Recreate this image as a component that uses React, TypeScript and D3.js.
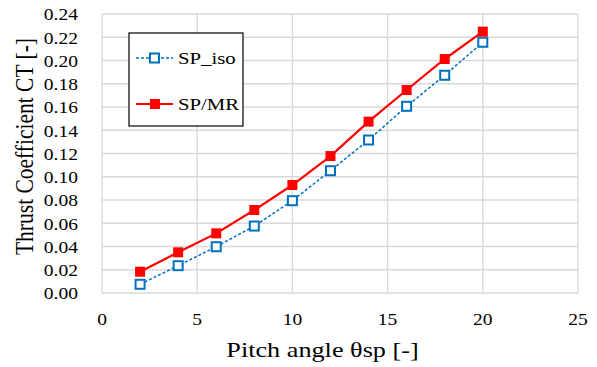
import React from "react";
import * as d3 from "d3";

const pitch = [2, 4, 6, 8, 10, 12, 14, 16, 18, 20];
const spIso = [0.0075, 0.0235, 0.0398, 0.0576, 0.0794, 0.1052, 0.1316, 0.1606, 0.1873, 0.2157];
const spMr = [0.0183, 0.035, 0.0513, 0.0714, 0.0929, 0.1178, 0.1474, 0.1746, 0.2013, 0.2248];
const xTicks = [0, 5, 10, 15, 20, 25];
const yTicks = [0, 0.02, 0.04, 0.06, 0.08, 0.1, 0.12, 0.14, 0.16, 0.18, 0.2, 0.22, 0.24];

const W = 597, H = 367;
const L = 102, R = 578, T = 14, B = 293;
const font = "Liberation Serif";
const SX = 1.22;

function SText({ x, y, anchor = "start", size, rotate = 0, children }: any) {
  return (
    <text
      transform={`translate(${x},${y}) scale(${SX},1) rotate(${rotate})`}
      textAnchor={anchor}
      fontFamily={font}
      fontSize={size}
      fill="#000"
    >
      {children}
    </text>
  );
}

export default function App() {
  const x = d3.scaleLinear().domain([0, 25]).range([L, R]);
  const y = d3.scaleLinear().domain([0, 0.24]).range([B, T]);
  const line = d3.line<number>().x((_, i) => x(pitch[i])).y((d) => y(d));
  const blue = "#0070c0", red = "#ff0000";
  return (
    <svg width={W} height={H} style={{ position: "absolute", left: 0, top: 0 }}>
      <rect width={W} height={H} fill="#fff" />
      {yTicks.map((t) => (
        <line key={"gy" + t} x1={L} x2={R} y1={y(t)} y2={y(t)} stroke="#d9d9d9" strokeWidth={1.3} />
      ))}
      {xTicks.map((t) => (
        <line key={"gx" + t} x1={x(t)} x2={x(t)} y1={T} y2={B} stroke="#d9d9d9" strokeWidth={1.3} />
      ))}
      {yTicks.map((t) => (
        <SText key={"ty" + t} x={78} y={y(t) + 6.3} anchor="end" size={16}>
          {t.toFixed(2)}
        </SText>
      ))}
      {xTicks.map((t) => (
        <SText key={"tx" + t} x={x(t)} y={325} anchor="middle" size={16}>
          {t}
        </SText>
      ))}
      <SText x={322.5} y={357} anchor="middle" size={21.5}>
        Pitch angle θsp [-]
      </SText>
      <SText x={33} y={146.5} anchor="middle" size={21.5} rotate={-90}>
        Thrust Coefficient CT [-]
      </SText>
      <path d={line(spIso) || ""} fill="none" stroke={blue} strokeWidth={1.5} strokeDasharray="3,2" />
      {spIso.map((v, i) => (
        <rect key={"bi" + i} x={x(pitch[i]) - 4.5} y={y(v) - 4.5} width={9} height={9} fill="#fff" stroke={blue} strokeWidth={2} />
      ))}
      <path d={line(spMr) || ""} fill="none" stroke={red} strokeWidth={2.2} />
      {spMr.map((v, i) => (
        <rect key={"ri" + i} x={x(pitch[i]) - 5} y={y(v) - 5} width={10} height={10} fill={red} />
      ))}
      <rect x={129} y={33} width={114} height={93} fill="#fff" stroke="#000" strokeWidth={1.2} />
      <line x1={136} x2={173} y1={58} y2={58} stroke={blue} strokeWidth={1.5} strokeDasharray="3,2" />
      <rect x={150} y={53.5} width={9} height={9} fill="#fff" stroke={blue} strokeWidth={2} />
      <SText x={178} y={64} size={17}>SP_iso</SText>
      <line x1={136} x2={173} y1={104} y2={104} stroke={red} strokeWidth={2.2} />
      <rect x={150} y={99} width={10} height={10} fill={red} />
      <SText x={178} y={110} size={17}>SP/MR</SText>
    </svg>
  );
}
